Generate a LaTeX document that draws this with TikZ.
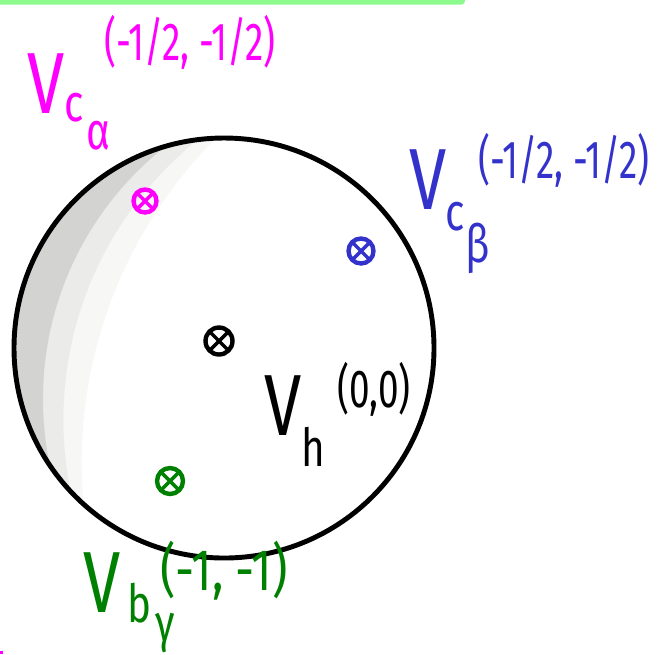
\documentclass[tikz,border=0pt]{standalone}
\usepackage{fontspec}
\setmainfont{Fira Sans}
\definecolor{barGreen}{RGB}{140,250,140}
\definecolor{inkPink}{RGB}{255,0,255}
\definecolor{inkBlue}{RGB}{51,51,204}
\definecolor{inkGreen}{RGB}{0,128,0}
\definecolor{shadeDark}{RGB}{211,211,209}
\definecolor{shadeMid}{RGB}{235,235,234}
\definecolor{shadeLight}{RGB}{247,247,246}

\tikzset{
  bigV/.style={inner sep=0pt, yscale=1.3, font=\fontsize{38}{38}\selectfont},
  subtxt/.style={inner sep=0pt, yscale=1.3, font=\fontsize{23}{23}\selectfont},
  suptxt/.style={inner sep=0pt, yscale=1.45, font=\fontsize{21}{21}\selectfont},
  vtx/.style={circle, draw, line width=2.5pt, inner sep=0pt, minimum size=#1,
    path picture={\draw[line width=2pt]
      (path picture bounding box.north west) -- (path picture bounding box.south east)
      (path picture bounding box.north east) -- (path picture bounding box.south west);}},
  vtx/.default=0.5cm
}

\begin{document}
\begin{tikzpicture}[x=0.02cm, y=-0.02cm]
  \useasboundingbox (0,0) rectangle (671,654);
  \fill[barGreen, rounded corners=2pt] (-10,-4) rectangle (465,4.5);
  \fill[inkPink] (0,651) rectangle (3,654);

  \coordinate (O) at (224,348);
  % shadow inside the left rim
  \begin{scope}
    \clip (O) circle (210);
    \fill[shadeLight, even odd rule] (O) circle (210) (541.5,462.9) circle (459.8);
    \fill[shadeMid, even odd rule] (O) circle (210) (422.2,419.7) circle (358.8);
    \fill[shadeDark, even odd rule] (O) circle (210) (364.6,398.9) circle (321.6);
  \end{scope}
  \draw[line width=2.8pt] (O) circle (210);

  % points
  \node[vtx=0.46cm, inkPink] (pa) at (145,201) {};
  \node[vtx=0.5cm, inkBlue] (pb) at (361,251) {};
  \node[vtx=0.54cm] (ph) at (219,341) {};
  \node[vtx=0.52cm, inkGreen] (pg) at (170,481) {};

  % labels
  \node[bigV, inkPink] (Va) at (46,84) {V};
  \node[subtxt, inkPink] (Vac) at (74,108) {c};
  \node[subtxt, inkPink] (Vaa) at (98,136) {α};
  \node[suptxt, inkPink] (Vasup) at (190,42) {(-1/2, -1/2)};

  \node[bigV, inkBlue] (Vb) at (428,180) {V};
  \node[subtxt, inkBlue] (Vbc) at (455,217) {c};
  \node[subtxt, inkBlue] (Vbb) at (478,248) {β};
  \node[suptxt, inkBlue] (Vbsup) at (564,160) {(-1/2, -1/2)};

  \node[bigV] (Vh) at (283,406) {V};
  \node[subtxt] (Vhh) at (313,447) {h};
  \node[suptxt] (Vhsup) at (374,389) {(0,0)};

  \node[bigV, inkGreen] (Vg) at (102,583) {V};
  \node[subtxt, inkGreen] (Vgb) at (139,603) {b};
  \node[subtxt, inkGreen] (Vgg) at (165,633) {γ};
  \node[suptxt, yscale=0.85, font=\fontsize{27}{27}\selectfont, inkGreen] (Vgsup) at (224,571) {(-1, -1)};
\end{tikzpicture}
\end{document}
